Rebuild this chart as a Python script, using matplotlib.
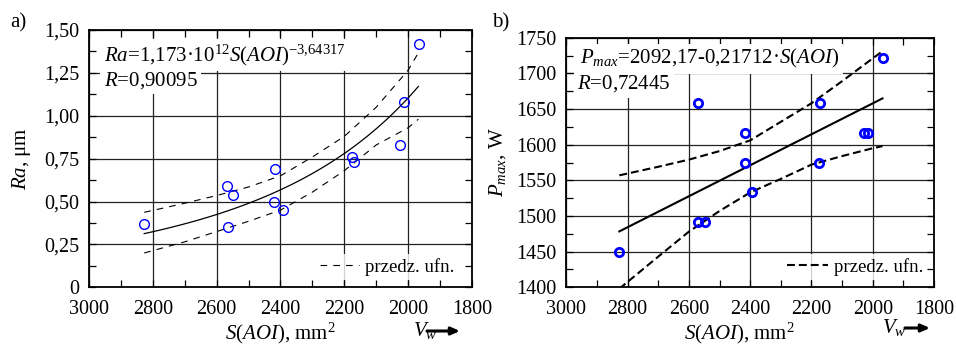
import numpy as np
import matplotlib
matplotlib.use("Agg")
import matplotlib.pyplot as plt
from matplotlib.ticker import MultipleLocator, FuncFormatter

plt.rcParams["font.family"] = ["Liberation Serif", "DejaVu Serif"]
plt.rcParams["mathtext.fontset"] = "custom"
plt.rcParams["mathtext.rm"] = "Liberation Serif"
plt.rcParams["mathtext.it"] = "Liberation Serif:italic"
plt.rcParams["mathtext.bf"] = "Liberation Serif:bold"

# a) Ra vs S(AOI) - measured points
ra_s = [2827, 2568, 2565, 2549, 2417, 2419, 2393, 2176, 2171, 2025, 2014, 1967]
ra_val = [0.37, 0.59, 0.35, 0.54, 0.69, 0.50, 0.45, 0.76, 0.73, 0.83, 1.08, 1.42]
# fitted model Ra = C * S^k (coefficients printed on the chart)
ra_coef = 1.173e12
ra_exp = -3.64317
# confidence band
band_s = [2827, 2700, 2600, 2500, 2400, 2300, 2200, 2100, 2000, 1968]
ra_upper = [0.437, 0.49, 0.535, 0.585, 0.65, 0.76, 0.88, 1.05, 1.266, 1.367]
ra_lower = [0.20, 0.265, 0.325, 0.385, 0.45, 0.555, 0.68, 0.83, 0.93, 0.98]

# b) Pmax vs S(AOI) - measured points
p_s = [2827, 2571, 2570, 2547, 2417, 2417, 2393, 2172, 2176, 2030, 2014, 1968]
p_val = [1449, 1659, 1491, 1491, 1617, 1575, 1533, 1659, 1575, 1617, 1617, 1722]
# fitted line Pmax = a + b*S
p_a = 2092.17
p_b = -0.21712
p_upper = [1557, 1569, 1579, 1591, 1606, 1632, 1658, 1689, 1721, 1731]
p_lower = [1398, 1443, 1478, 1507, 1533, 1552, 1572, 1584, 1595, 1598]

fit_range = [2827, 1968]

W, H = 956, 344
fig = plt.figure(figsize=(W / 100, H / 100), dpi=100)


def px_axes(x0, x1, top, bottom):
    return fig.add_axes([x0 / W, 1 - bottom / H, (x1 - x0) / W, (bottom - top) / H])


def style_axes(ax, ymajor, yminor, fmt):
    ax.set_xlim(3000, 1800)
    ax.xaxis.set_major_locator(MultipleLocator(200))
    ax.xaxis.set_minor_locator(MultipleLocator(100))
    ax.yaxis.set_major_locator(MultipleLocator(ymajor))
    ax.yaxis.set_minor_locator(MultipleLocator(yminor))
    ax.yaxis.set_major_formatter(FuncFormatter(fmt))
    ax.tick_params(which="both", direction="in", top=True, right=True,
                   length=5, width=0.9, labelsize=14.5)
    ax.tick_params(axis="x", pad=9)
    ax.tick_params(axis="y", pad=7)
    ax.set_axisbelow(True)
    ax.grid(which="major", color="#222222", lw=0.9)
    for sp in ax.spines.values():
        sp.set_linewidth(1.3)


def ra_fmt(v, pos):
    return "0" if abs(v) < 1e-9 else f"{v:.2f}".replace(".", ",")


def p_fmt(v, pos):
    return f"{v:.0f}"


box = dict(facecolor="white", edgecolor="none", pad=2.5)

# ---------------- panel a
ax1 = px_axes(89, 472, 30, 287.3)
style_axes(ax1, 0.25, 0.125, ra_fmt)
ax1.set_ylim(0, 1.5)

s_fit = np.linspace(fit_range[0], fit_range[1], 80)
ax1.plot(s_fit, ra_coef * s_fit ** ra_exp, color="k", lw=0.9)
ax1.plot(band_s, ra_upper, color="k", lw=0.8, dashes=(6, 5.5), label="przedz. ufn.")
ax1.plot(band_s, ra_lower, color="k", lw=0.8, dashes=(6, 5.5))
ax1.plot(ra_s, ra_val, "o", ms=7, mfc="none", mec="#0000ff", mew=1.0)

ax1.text(0.039, 0.879, r"$Ra$=1,173·10$^{12}$$S(AOI)$$^{\mathregular{-3{,}64317}}$",
         transform=ax1.transAxes, fontsize=15, va="baseline", bbox=box, zorder=5)
ax1.text(0.039, 0.785, r"$R$=0,90095", transform=ax1.transAxes, fontsize=15,
         va="baseline", bbox=box, zorder=5)
ax1.set_ylabel(r"$Ra$, μm", fontsize=15, va="center")
ax1.yaxis.set_label_coords(-0.177, 0.5)
leg = ax1.legend(loc="lower right", bbox_to_anchor=(0.965, 0.03), fontsize=13.5,
                 handlelength=2.1, handletextpad=0.35, borderpad=0.2,
                 borderaxespad=0, fancybox=False)
leg.get_frame().set_edgecolor("none")

# ---------------- panel b
ax2 = px_axes(566.3, 934, 37.7, 287.3)
style_axes(ax2, 50, 25, p_fmt)
ax2.set_ylim(1400, 1750)

s_line = np.array(fit_range)
ax2.plot(s_line, p_a + p_b * s_line, color="k", lw=1.5)
ax2.plot(band_s, p_upper, color="k", lw=1.5, dashes=(3.8, 1.9), label="przedz. ufn.")
ax2.plot(band_s, p_lower, color="k", lw=1.5, dashes=(3.8, 1.9))
ax2.plot(p_s, p_val, "o", ms=6, mfc="none", mec="#0000ff", mew=2.0)

ax2.text(0.038, 0.895, r"$P_{max}$=2092,17-0,21712·$S(AOI)$",
         transform=ax2.transAxes, fontsize=15, va="baseline", bbox=box, zorder=5)
ax2.text(0.03, 0.795, r"$R$=0,72445", transform=ax2.transAxes, fontsize=15,
         va="baseline", bbox=box, zorder=5)
ax2.set_ylabel(r"$P_{max}$, W", fontsize=15, va="center")
ax2.yaxis.set_label_coords(-0.186, 0.5)
leg2 = ax2.legend(loc="lower right", bbox_to_anchor=(0.98, 0.03), fontsize=13.5,
                  handlelength=2.2, handletextpad=0.3, borderpad=0.2,
                  borderaxespad=0, fancybox=False)
leg2.get_frame().set_edgecolor("none")

# ---------------- figure-level labels
fig.text(10 / W, 1 - 27 / H, "a)", fontsize=15, va="baseline")
fig.text(492 / W, 1 - 27 / H, "b)", fontsize=15, va="baseline")
for cx, vx, a0, a1, vy in [(280, 413, 427, 460, 336), (739, 882, 905, 930, 333)]:
    fig.text(cx / W, 1 - 339 / H, r"$S(AOI)$, mm$^2$", fontsize=15,
             ha="center", va="baseline")
    fig.text(vx / W, 1 - vy / H, r"$V_w$", fontsize=15, va="baseline")
    ax1.annotate("", xy=(a1, H - (vy - 5)), xytext=(a0, H - (vy - 5)),
                 xycoords="figure pixels", textcoords="figure pixels",
                 annotation_clip=False,
                 arrowprops=dict(arrowstyle="-|>,head_length=0.5,head_width=0.22",
                                 lw=2.2, color="k", shrinkA=0, shrinkB=0))

fig.savefig("out.png", dpi=100)
